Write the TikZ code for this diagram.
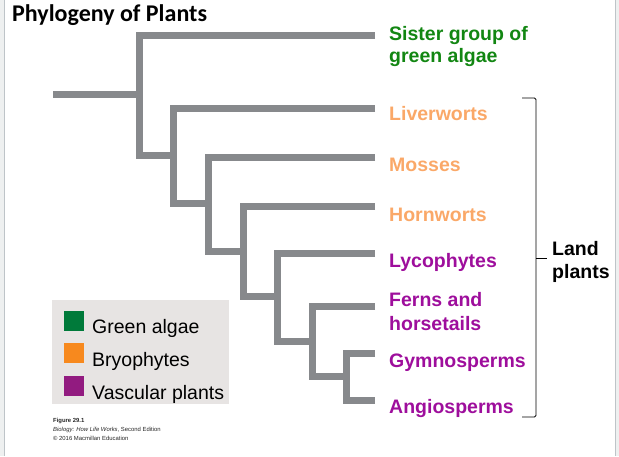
\documentclass[tikz,border=0pt]{standalone}
\usepackage{fontspec}
\setmainfont{Liberation Sans}
\newfontfamily\titlefont{Carlito}
\definecolor{branchgray}{RGB}{135,137,140}
\definecolor{txtgreen}{RGB}{18,134,18}
\definecolor{txtorange}{RGB}{250,168,104}
\definecolor{txtpurple}{RGB}{158,14,156}
\definecolor{leggreen}{RGB}{0,122,58}
\definecolor{legorange}{RGB}{247,137,30}
\definecolor{legpurple}{RGB}{146,27,128}
\definecolor{legbg}{RGB}{231,228,227}
\definecolor{edgegray}{RGB}{238,240,240}
\definecolor{edgeline}{RGB}{190,196,200}
\tikzset{
  branch/.style={draw=branchgray, line width=7pt, line join=miter, line cap=butt},
  taxon/.style={anchor=base west, inner sep=0pt, font=\fontsize{19.5}{23}\selectfont\bfseries},
  legtext/.style={anchor=base west, inner sep=0pt, font=\fontsize{19.5}{23}\selectfont},
  legsq/.style={minimum size=20pt, inner sep=0pt, draw=none},
  capt/.style={anchor=base west, inner sep=0pt, font=\fontsize{5.9}{7}\selectfont, text=black!85},
  bracket/.style={draw=black, line width=0.9pt, rounded corners=1.5pt}
}
\begin{document}
\begin{tikzpicture}[x=1pt, y=-1pt]
\useasboundingbox (0,0) rectangle (619,456);
% page edges
\fill[edgegray] (0,0) rectangle (4,456);
\draw[edgeline, line width=1pt] (4,0) -- (4,456);
\fill[edgegray] (616,0) rectangle (619,456);
\draw[edgeline, line width=1pt] (615.7,0) -- (615.7,456);

% title
\node[anchor=base west, inner sep=0pt, font=\titlefont\fontsize{24}{28}\selectfont\bfseries] (title) at (12,21.5) {Phylogeny of Plants};

% tree coordinates
\coordinate (root) at (53,94);
\coordinate (n1) at (139,94);
\coordinate (n2) at (173,155);
\coordinate (n3) at (208,203);
\coordinate (n4) at (243,251);
\coordinate (n5) at (277,296);
\coordinate (n6) at (312,341);
\coordinate (n7) at (346,376);
\coordinate (t0) at (375,35);
\coordinate (t1) at (375,108);
\coordinate (t2) at (375,157);
\coordinate (t3) at (375,206);
\coordinate (t4) at (375,253);
\coordinate (t5) at (375,306);
\coordinate (t6) at (375,353);
\coordinate (t7) at (375,400);

\draw[branch] (root) -- (n1);
\draw[branch] (t0) -| (n1) |- (n2);
\draw[branch] (t1) -| (n2) |- (n3);
\draw[branch] (t2) -| (n3) |- (n4);
\draw[branch] (t3) -| (n4) |- (n5);
\draw[branch] (t4) -| (n5) |- (n6);
\draw[branch] (t5) -| (n6) |- (n7);
\draw[branch] (t6) -| (n7) |- (t7);

% taxon labels
\node[taxon, text=txtgreen] (sister1) at (389,40) {Sister group of};
\node[taxon, text=txtgreen] (sister2) at (389,62) {green algae};
\node[taxon, text=txtorange] (liver) at (389,120) {Liverworts};
\node[taxon, text=txtorange] (moss) at (389,171) {Mosses};
\node[taxon, text=txtorange] (horn) at (389,221) {Hornworts};
\node[taxon, text=txtpurple] (lyco) at (389,267) {Lycophytes};
\node[taxon, text=txtpurple] (fern1) at (389,306) {Ferns and};
\node[taxon, text=txtpurple] (fern2) at (389,330) {horsetails};
\node[taxon, text=txtpurple] (gymno) at (389,367) {Gymnosperms};
\node[taxon, text=txtpurple] (angio) at (389,413) {Angiosperms};

% bracket
\coordinate (bt) at (522,98);
\coordinate (bb) at (522,417);
\coordinate (bm) at (536,258);
\coordinate (btick) at (547,258);
\draw[bracket] (bt) -| (bm) |- (bb);
\draw[draw=black, line width=0.9pt] (bm) -- (btick);
\node[taxon, text=black] (land1) at (552,255) {Land};
\node[taxon, text=black] (land2) at (552,278) {plants};

% legend
\fill[legbg] (52,300) rectangle (229,404);
\node[legsq, fill=leggreen, anchor=north west] (sqg) at (64,311) {};
\node[legsq, fill=legorange, anchor=north west] (sqo) at (64,343) {};
\node[legsq, fill=legpurple, anchor=north west] (sqp) at (64,376) {};
\node[legtext] (lg) at (92,333) {Green algae};
\node[legtext] (lo) at (92,366) {Bryophytes};
\node[legtext] (lp) at (92,399) {Vascular plants};

% caption
\node[capt, font=\fontsize{5.9}{7}\selectfont\bfseries] (cap1) at (53,422) {Figure 29.1};
\node[capt] (cap2) at (53,431) {\textit{Biology: How Life Works}, Second Edition};
\node[capt] (cap3) at (53,440) {\textcopyright\ 2016 Macmillan Education};
\end{tikzpicture}
\end{document}
